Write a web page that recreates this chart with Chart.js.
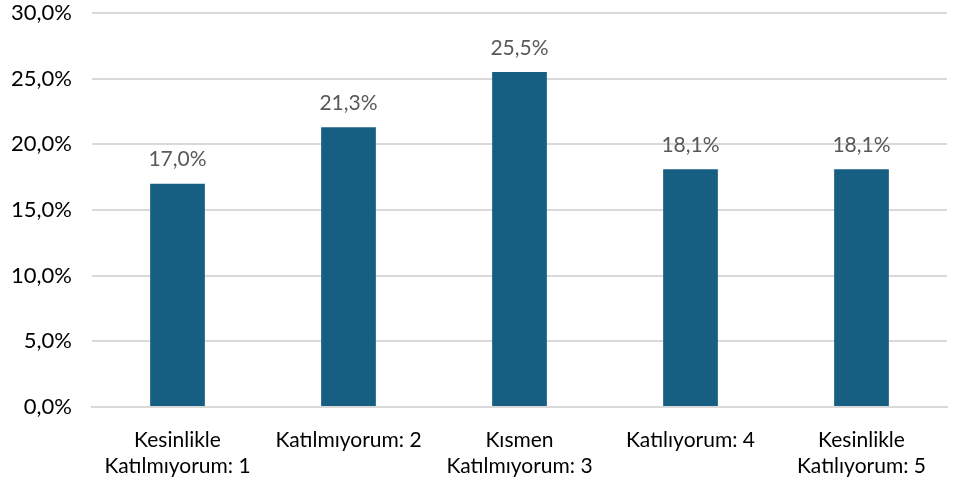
<!DOCTYPE html>
<html>
<head>
<meta charset="utf-8">
<script src="https://cdn.jsdelivr.net/npm/chart.js@4"></script>
<style>
  html, body { margin: 0; padding: 0; background: #fff; }
  #wrap { width: 957px; height: 489px; }
</style>
</head>
<body>
<div id="wrap"><canvas id="chart"></canvas></div>
<script>
const categories = [
  ['Kesinlikle', 'Katılmıyorum: 1'],
  'Katılmıyorum: 2',
  ['Kısmen', 'Katılmıyorum: 3'],
  'Katılıyorum: 4',
  ['Kesinlikle', 'Katılıyorum: 5']
];
const percentages = [17.0, 21.3, 25.5, 18.1, 18.1];

const fmt = v => v.toFixed(1).replace('.', ',') + '%';
const FONT = 'Lato, "Open Sans", sans-serif';

const valueLabels = {
  id: 'valueLabels',
  afterDatasetsDraw(chart) {
    const ctx = chart.ctx;
    const meta = chart.getDatasetMeta(0);
    ctx.save();
    ctx.font = '21px ' + FONT;
    ctx.fillStyle = '#595959';
    ctx.textAlign = 'center';
    ctx.textBaseline = 'middle';
    meta.data.forEach((bar, i) => {
      ctx.fillText(fmt(percentages[i]), bar.x, bar.y - 24);
    });
    ctx.restore();
  }
};

new Chart(document.getElementById('chart').getContext('2d'), {
  type: 'bar',
  data: {
    labels: categories,
    datasets: [{
      data: percentages,
      backgroundColor: '#175f82',
      barPercentage: 0.32,
      categoryPercentage: 1.0
    }]
  },
  options: {
    responsive: true,
    maintainAspectRatio: false,
    animation: false,
    layout: { padding: { left: 10, right: 10, top: 1, bottom: -10 } },
    plugins: { legend: { display: false }, tooltip: { enabled: false } },
    scales: {
      y: {
        min: 0,
        max: 30,
        ticks: {
          stepSize: 5,
          callback: v => fmt(v),
          color: '#000',
          font: { family: FONT, size: 22, lineHeight: 1.2 },
          padding: 20
        },
        grid: { color: '#d9d9d9', lineWidth: 2, drawTicks: false },
        border: { display: false },
        afterFit(scale) {
          scale.width = 82;
          scale.paddingTop = 13;
          scale.paddingBottom = 13;
        }
      },
      x: {
        ticks: {
          color: '#000',
          font: { family: FONT, size: 21, lineHeight: 1.24 },
          maxRotation: 0,
          autoSkip: false,
          padding: 20
        },
        grid: { display: false, drawTicks: false },
        border: { color: '#d9d9d9', width: 2 }
      }
    }
  },
  plugins: [valueLabels]
});
</script>
</body>
</html>
